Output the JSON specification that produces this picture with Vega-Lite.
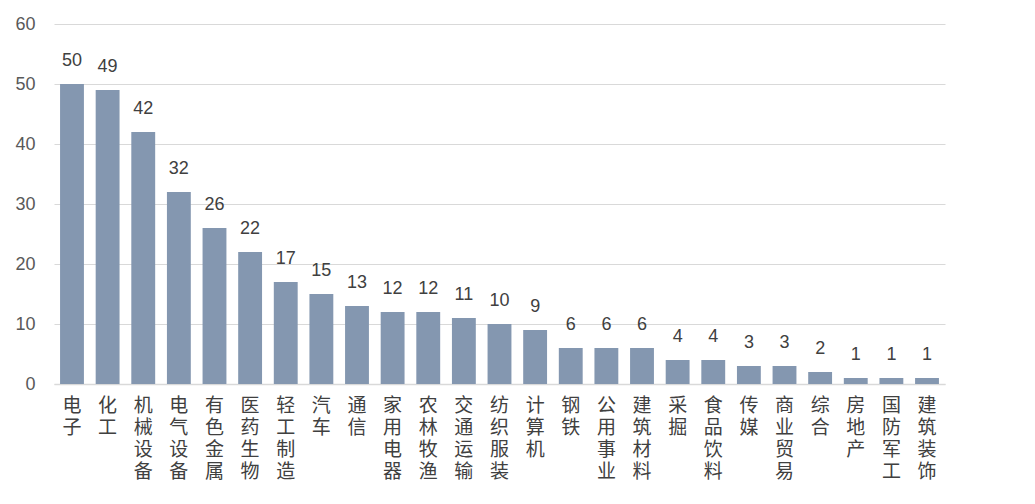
{
  "$schema": "https://vega.github.io/schema/vega-lite/v6.json",
  "width": 891,
  "height": 360,
  "autosize": "none",
  "padding": {"left": 54, "top": 24, "right": 90, "bottom": 120},
  "background": "white",
  "config": {"view": {"stroke": null}},
  "data": {
    "values": [
      {"industry": "电子", "count": 50},
      {"industry": "化工", "count": 49},
      {"industry": "机械设备", "count": 42},
      {"industry": "电气设备", "count": 32},
      {"industry": "有色金属", "count": 26},
      {"industry": "医药生物", "count": 22},
      {"industry": "轻工制造", "count": 17},
      {"industry": "汽车", "count": 15},
      {"industry": "通信", "count": 13},
      {"industry": "家用电器", "count": 12},
      {"industry": "农林牧渔", "count": 12},
      {"industry": "交通运输", "count": 11},
      {"industry": "纺织服装", "count": 10},
      {"industry": "计算机", "count": 9},
      {"industry": "钢铁", "count": 6},
      {"industry": "公用事业", "count": 6},
      {"industry": "建筑材料", "count": 6},
      {"industry": "采掘", "count": 4},
      {"industry": "食品饮料", "count": 4},
      {"industry": "传媒", "count": 3},
      {"industry": "商业贸易", "count": 3},
      {"industry": "综合", "count": 2},
      {"industry": "房地产", "count": 1},
      {"industry": "国防军工", "count": 1},
      {"industry": "建筑装饰", "count": 1}
    ]
  },
  "encoding": {
    "x": {
      "field": "industry",
      "type": "nominal",
      "sort": null,
      "scale": {"paddingInner": 0.33, "paddingOuter": 0.17},
      "axis": {
        "title": null,
        "labelAngle": 0,
        "labelExpr": "split(datum.label, '')",
        "labelFont": "Noto Sans CJK SC",
        "labelFontSize": 19,
        "labelLineHeight": 22,
        "labelColor": "#404040",
        "labelPadding": 12,
        "labelBaseline": "top",
        "domainColor": "#d9d9d9",
        "domainWidth": 1.5,
        "ticks": false
      }
    },
    "y": {
      "field": "count",
      "type": "quantitative",
      "scale": {"domain": [0, 60]},
      "axis": {
        "title": null,
        "values": [0, 10, 20, 30, 40, 50, 60],
        "labelFont": "Liberation Sans",
        "labelFontSize": 18,
        "labelColor": "#595959",
        "labelPadding": 19,
        "gridColor": "#d9d9d9",
        "gridWidth": 1.2,
        "domain": false,
        "ticks": false
      }
    }
  },
  "layer": [
    {"mark": {"type": "bar", "color": "#8497b0"}},
    {
      "mark": {
        "type": "text",
        "dy": -23,
        "font": "Liberation Sans",
        "fontSize": 18,
        "color": "#404040"
      },
      "encoding": {"text": {"field": "count", "type": "quantitative"}}
    }
  ]
}
